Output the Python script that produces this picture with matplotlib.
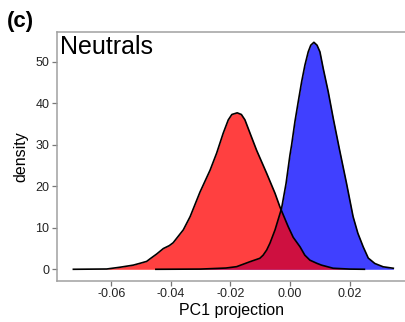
import matplotlib.pyplot as plt

plt.rcParams['font.family'] = ['Liberation Sans', 'DejaVu Sans']

# density curves (PC1 projection, density)
blue_x = [-0.045, -0.030, -0.0215, -0.0179, -0.0134, -0.0101, -0.0090, -0.0078, -0.0067,
          -0.0050, -0.0028, -0.0013, 0.0, 0.00057, 0.00168, 0.00279, 0.00393, 0.00503,
          0.00614, 0.0070, 0.00805, 0.0091, 0.01007, 0.01117, 0.01285, 0.01453, 0.01654,
          0.0190, 0.0212, 0.0228, 0.0246, 0.0263, 0.0285, 0.0313, 0.0347]
blue_y = [0.0, 0.05, 0.3, 0.63, 1.83, 2.65, 3.4, 4.65, 6.3,
          9.5, 14.7, 20.7, 27.5, 30.0, 35.6, 40.4, 45.2, 49.2,
          52.4, 54.0, 54.7, 54.0, 52.4, 48.4, 42.8, 36.4, 29.2,
          20.7, 12.7, 8.7, 5.4, 2.7, 1.4, 0.6, 0.25]

red_x = [-0.0727, -0.0615, -0.0570, -0.0526, -0.0503, -0.0481, -0.0470, -0.0447, -0.0425,
         -0.0405, -0.0392, -0.0358, -0.0335, -0.0302, -0.0268, -0.0246, -0.0224, -0.0207,
         -0.0195, -0.0177, -0.0163, -0.0151, -0.0134, -0.0112, -0.0078, -0.0050, -0.0034,
         -0.0006, 0.0011, 0.0034, 0.0050, 0.0067, 0.0090, 0.0106, 0.0145, 0.020, 0.025]
red_y = [0.0, 0.07, 0.5, 1.0, 1.45, 1.9, 2.5, 3.7, 5.0,
         5.7, 6.4, 9.5, 12.7, 18.6, 23.9, 28.0, 32.8, 36.0,
         37.3, 37.7, 37.3, 36.0, 32.8, 28.7, 23.1, 18.3, 15.1,
         10.3, 7.7, 5.4, 3.4, 2.2, 1.45, 1.0, 0.25, 0.05, 0.0]

xticks = [-0.06, -0.04, -0.02, 0.00, 0.02]
yticks = [0, 10, 20, 30, 40, 50]

fig = plt.figure(figsize=(4.06, 3.22), dpi=100)
ax = fig.add_axes([57 / 406, 41.3 / 322, 350 / 406, 248.7 / 322])

# blue first, red drawn over it
ax.fill_between(blue_x, 0, blue_y, color='blue', alpha=0.75, linewidth=0)
ax.plot(blue_x, blue_y, color='black', linewidth=1.2, solid_joinstyle='round')
ax.fill_between(red_x, 0, red_y, color='red', alpha=0.75, linewidth=0)
ax.plot(red_x, red_y, color='black', linewidth=1.2, solid_joinstyle='round')

ax.set_xlim(-0.0782, 0.0393)
ax.set_ylim(-2.75, 57.18)
ax.set_xticks(xticks)
ax.set_xticklabels(['%.2f' % t for t in xticks])
ax.set_yticks(yticks)

for side in ['left', 'bottom', 'top']:
    ax.spines[side].set_color('#a0a0a0')
    ax.spines[side].set_linewidth(1.1)
ax.spines['right'].set_visible(False)
ax.tick_params(colors='#777777', labelcolor='#222222', labelsize=9, length=3.5, width=0.9, pad=2)

ax.set_xlabel('PC1 projection', fontsize=11.5, labelpad=2)
ax.set_ylabel('density', fontsize=11.5, labelpad=5)

ax.text(0.009, 0.9115, 'Neutrals', transform=ax.transAxes, fontsize=18, va='baseline', ha='left')
fig.text(7 / 406, 1 - 27 / 322, '(c)', fontsize=16, fontweight='bold', va='baseline', ha='left')

fig.savefig('out.png', dpi=100)
